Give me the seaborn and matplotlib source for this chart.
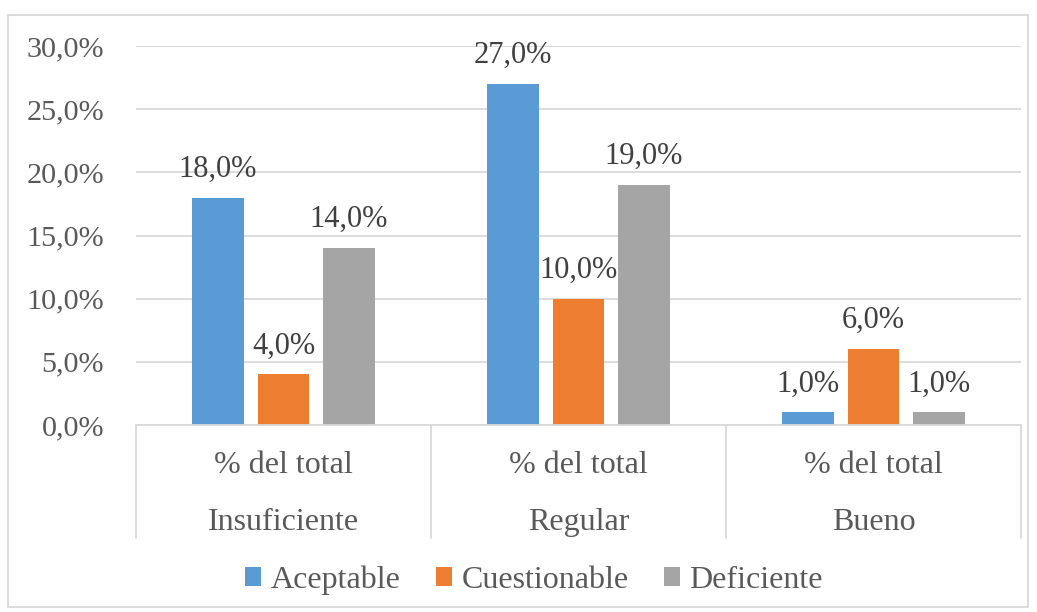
import pandas as pd
import matplotlib.pyplot as plt
import matplotlib.transforms as mtransforms
from matplotlib.patches import Rectangle, Patch
import seaborn as sns

# Data (percent of total)
categories = ["Insuficiente", "Regular", "Bueno"]
series = ["Aceptable", "Cuestionable", "Deficiente"]
aceptable = [18.0, 27.0, 1.0]
cuestionable = [4.0, 10.0, 6.0]
deficiente = [14.0, 19.0, 1.0]
sub_label = "% del total"
yticks = [0, 5, 10, 15, 20, 25, 30]

colors = ["#5B9BD5", "#ED7D31", "#A5A5A5"]
text_color = "#595959"
grid_color = "#D9D9D9"

df = pd.DataFrame({
    "Categoria": categories * 3,
    "Serie": [s for s in series for _ in categories],
    "Valor": aceptable + cuestionable + deficiente,
})

sns.set_style("white")
plt.rcParams["font.family"] = ["Liberation Serif", "DejaVu Serif"]

fig = plt.figure(figsize=(10.37, 6.12), dpi=100)
ax = fig.add_axes([136 / 1037, 1 - 425 / 612, (1021 - 136) / 1037, (425 - 46) / 612])

sns.barplot(data=df, x="Categoria", y="Valor", hue="Serie", order=categories,
            hue_order=series, palette=colors, width=0.666, gap=0.22,
            saturation=1, linewidth=0, ax=ax, legend=False)

ax.set_ylim(0, 30)
ax.set_xlim(-0.5, 2.5)
ax.set_yticks(yticks)
ax.set_yticklabels([f"{t:.1f}%".replace(".", ",") for t in yticks])
ax.tick_params(axis="y", length=0, pad=23, labelsize=21.7, labelcolor=text_color)
ax.set_xticks([])
ax.set_xlabel("")
ax.set_ylabel("")
ax.yaxis.grid(True, color=grid_color, linewidth=1.3)
ax.set_axisbelow(True)
for side in ["top", "left", "right"]:
    ax.spines[side].set_visible(False)
ax.spines["bottom"].set_color(grid_color)
ax.spines["bottom"].set_linewidth(1.3)

# value labels
for cont in ax.containers:
    ax.bar_label(cont, labels=[f"{b.get_height():.1f}%".replace(".", ",") for b in cont],
                 padding=10, fontsize=22, color="#404040")

# two-level category axis
trans = mtransforms.blended_transform_factory(ax.transData, ax.transAxes)
for i, cat in enumerate(categories):
    ax.text(i, -0.106, sub_label, transform=trans, ha="center", va="center",
            fontsize=23, color=text_color)
    ax.text(i, -0.258, cat, transform=trans, ha="center", va="center",
            fontsize=23, color=text_color)
for xb in [-0.5, 0.5, 1.5, 2.5]:
    ax.plot([xb, xb], [0, -0.298], transform=trans, color=grid_color,
            linewidth=1.3, clip_on=False)

handles = [Patch(facecolor=c, edgecolor="none") for c in colors]
leg = fig.legend(handles, series, loc="center", bbox_to_anchor=(534 / 1037, 1 - 580 / 612),
                 ncol=3, frameon=False, fontsize=23, handlelength=0.5, handleheight=0.5,
                 handletextpad=0.3, columnspacing=1.1)
for t in leg.get_texts():
    t.set_color(text_color)

# outer chart border
fig.patches.append(Rectangle((8 / 1037, 1 - 607 / 612), 1020 / 1037, 592 / 612,
                             transform=fig.transFigure, fill=False,
                             edgecolor=grid_color, linewidth=1.3))

fig.savefig("out.png", dpi=100)
